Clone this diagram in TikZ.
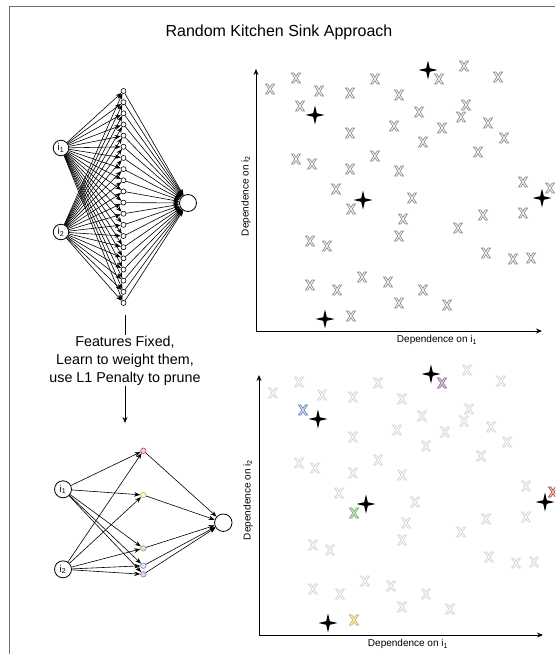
\documentclass[tikz,border=0pt]{standalone}
\usepackage{fontspec}
\setmainfont{Liberation Sans}
\usetikzlibrary{arrows.meta}
\definecolor{framegray}{HTML}{707070}
\definecolor{xgray}{HTML}{8C8C8C}
\definecolor{xlight}{HTML}{D2D2D2}
\definecolor{redS}{HTML}{B85450}\definecolor{redF}{HTML}{F8CECC}
\definecolor{yelS}{HTML}{D6B656}\definecolor{yelF}{HTML}{FFF2CC}
\definecolor{grnS}{HTML}{82B366}\definecolor{grnF}{HTML}{D5E8D4}
\definecolor{bluS}{HTML}{6C8EBF}\definecolor{bluF}{HTML}{DAE8FC}
\definecolor{purS}{HTML}{9673A6}\definecolor{purF}{HTML}{E1D5E7}
\tikzset{
  xmark/.pic={\path[pic actions] (-4.5,-5) -- (-2.2,-5) -- (0,-1.62) -- (2.2,-5) -- (4.5,-5) -- (1.1,0) -- (4.5,5) -- (2.2,5) -- (0,1.62) -- (-2.2,5) -- (-4.5,5) -- (-1.1,0) -- cycle;},
  sparkle/.pic={\fill[black] (0,-9.5) -- (1.8,-1.8) -- (9.5,0) -- (1.8,1.8) -- (0,9.5) -- (-1.8,1.8) -- (-9.5,0) -- (-1.8,-1.8) -- cycle;},
  inp/.style={circle, draw, fill=white, line width=0.8pt, minimum size=15.5pt, inner sep=0pt, font=\fontsize{10}{12}\selectfont},
  hid/.style={circle, draw, fill=white, line width=0.6pt, minimum size=5pt, inner sep=0pt},
  outn/.style={circle, draw, fill=white, line width=0.8pt, minimum size=17pt, inner sep=0pt},
  edge/.style={line width=0.6pt, -{Stealth[length=6pt,width=4.5pt]}},
  axis/.style={line width=0.9pt, -{Stealth[length=6pt,width=5pt]}},
  axlabel/.style={font=\fontsize{10}{12}\selectfont, inner sep=0pt},
  grayx/.style={draw=xgray, fill=white, line width=0.7pt},
  lightx/.style={draw=xlight, fill=white, line width=0.7pt},
}
\begin{document}
\begin{tikzpicture}[x=1pt,y=-1pt]
\clip (0,0) rectangle (555,654);
\fill[white] (0,0) rectangle (555,654);
\draw[framegray, line width=1.2pt] (9.5,6.5) rectangle (580,680);

\node[font=\fontsize{16}{19}\selectfont] (title) at (279,32) {Random Kitchen Sink Approach};

% ---------- top network ----------
\node[inp] (ti1) at (61,148) {i\textsubscript{1}};
\node[inp] (ti2) at (61,232) {i\textsubscript{2}};
\node[outn] (tout) at (188,203) {};
\foreach \k in {1,...,20} {
  \node[hid] (th\k) at (123.5,{91+(\k-1)*11.158}) {};
}
\foreach \k in {1,...,20} {
  \draw[edge] (ti1) -- (th\k);
  \draw[edge] (ti2) -- (th\k);
  \draw[edge] (th\k) -- (tout);
}

% ---------- text and arrows ----------
\node[align=center, font=\fontsize{14.3}{17.8}\selectfont, inner sep=1pt] (txt) at (125,360.5) {Features Fixed,\\Learn to weight them,\\use L1 Penalty to prune};
\coordinate (ls) at (125,315);
\coordinate (ae) at (125,423);
\draw[line width=0.8pt] (ls) -- (txt);
\draw[line width=0.8pt, -{Stealth[length=6pt,width=5pt]}] (txt) -- (ae);

% ---------- bottom network ----------
\node[inp, minimum size=17pt] (bi1) at (63,489.3) {i\textsubscript{1}};
\node[inp, minimum size=17pt] (bi2) at (63,569.3) {i\textsubscript{2}};
\node[outn, minimum size=17.5pt] (bout) at (223.3,522.7) {};
\node[hid, minimum size=5.5pt, draw=redS, fill=redF] (bh1) at (143.3,450.7) {};
\node[hid, minimum size=5.5pt, draw=yelS, fill=yelF] (bh2) at (143.3,495) {};
\node[hid, minimum size=5.5pt, draw=grnS, fill=grnF] (bh3) at (143.3,548.3) {};
\node[hid, minimum size=5.5pt, draw=bluS, fill=bluF] (bh4) at (143.3,565.7) {};
\node[hid, minimum size=5.5pt, draw=purS, fill=purF] (bh5) at (143.3,574.3) {};
\foreach \k in {1,...,5} {
  \draw[edge] (bi1) -- (bh\k);
  \draw[edge] (bi2) -- (bh\k);
  \draw[edge] (bh\k) -- (bout);
}

% ---------- top scatter ----------
\coordinate (to) at (256,331);
\coordinate (ty) at (256,69);
\coordinate (tx) at (542,331);
\draw[axis] (to) -- (ty);
\draw[axis] (to) -- (tx);
\node[axlabel] (txl) at (437,340) {Dependence on i\textsubscript{1}};
\node[axlabel, rotate=90] (tyl) at (246,196) {Dependence on i\textsubscript{2}};

\def\xlist{270/89, 296/78, 319/91, 300/106, 350/93, 375/79, 399/95, 439/79, 464/66, 498/77,
 466/105, 419/112, 461/117, 488/123, 442/128, 394/126, 350/133, 423/142, 504/138, 478/152,
 296/159, 312/164, 350/169, 375/156, 399/171, 336/189, 412/198, 523/182, 550/188, 351/209,
 403/219, 399/236, 458/228, 483/215, 523/213, 310/241, 327/246, 486/253, 513/259, 531/258,
 310/285, 337/290, 362/277, 388/282, 423/290, 399/303, 447/305, 351/316}
\foreach \x/\y in \xlist {
  \pic[grayx] at (\x,\y) {xmark};
}
\foreach \x/\y in {428/70, 315/115, 363/200, 542/198, 325/319} {
  \pic at (\x,\y) {sparkle};
}

% ---------- bottom scatter ----------
\coordinate (bo) at (259,635);
\coordinate (by) at (259,375);
\coordinate (bx) at (543,635);
\draw[axis] (bo) -- (by);
\draw[axis] (bo) -- (bx);
\node[axlabel] (bxl) at (408,644) {Dependence on i\textsubscript{1}};
\node[axlabel, rotate=90] (byl) at (248,500) {Dependence on i\textsubscript{2}};
\foreach \x/\y in \xlist {
  \pic[lightx] at ({\x+3},{\y+304}) {xmark};
}
\pic[draw=bluS, fill=bluF, line width=0.7pt] at (303,410) {xmark};
\pic[draw=purS, fill=purF, line width=0.7pt] at (442,383) {xmark};
\pic[draw=redS, fill=redF, line width=0.7pt] at (553,492) {xmark};
\pic[draw=grnS, fill=grnF, line width=0.7pt] at (354,513) {xmark};
\pic[draw=yelS, fill=yelF, line width=0.7pt] at (354,620) {xmark};
\foreach \x/\y in {431/374, 318/419, 366/504, 545/502, 328/623} {
  \pic at (\x,\y) {sparkle};
}
\end{tikzpicture}
\end{document}
